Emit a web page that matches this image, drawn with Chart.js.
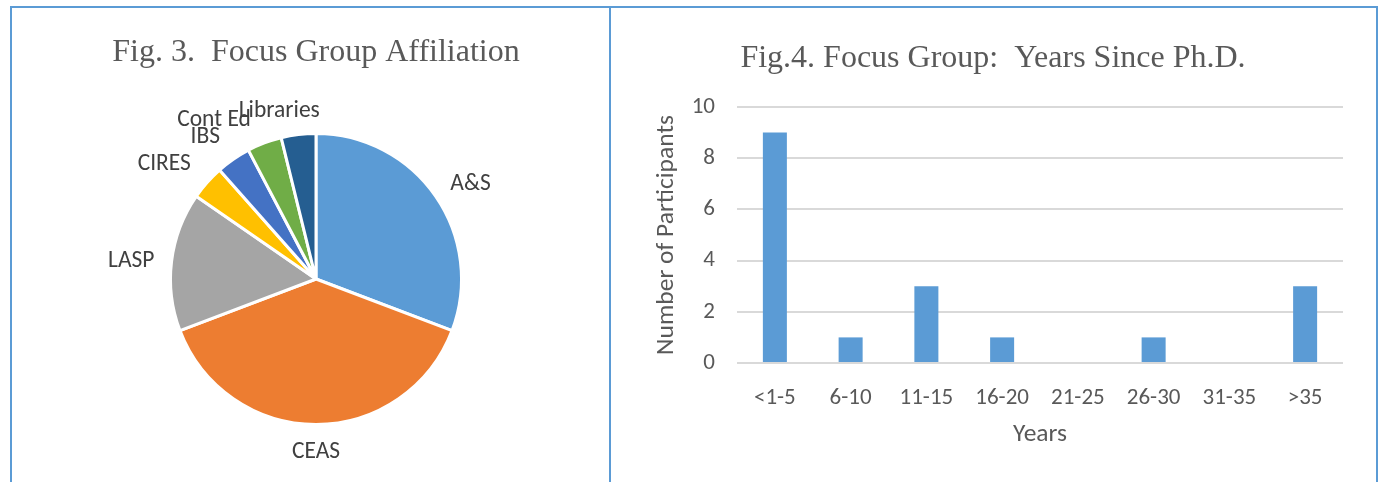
<!DOCTYPE html>
<html>
<head>
<meta charset="utf-8">
<title>Focus Group Charts</title>
<script src="https://cdn.jsdelivr.net/npm/chart.js@4/dist/chart.umd.min.js"></script>
<style>
  html, body { margin: 0; padding: 0; background: #ffffff; }
  body { width: 1382px; height: 482px; position: relative; overflow: hidden; }
  .frame { position: absolute; background: #5b9bd5; z-index: 2; }
  canvas { position: absolute; }
</style>
</head>
<body>
<div class="frame" style="left:10px; top:6px; width:1368px; height:2px;"></div>
<div class="frame" style="left:10px; top:6px; width:2px; height:476px;"></div>
<div class="frame" style="left:609px; top:6px; width:2px; height:476px;"></div>
<div class="frame" style="left:1376px; top:6px; width:2px; height:476px;"></div>

<canvas id="pieChart" width="608" height="474" style="left:12px; top:8px;"></canvas>
<canvas id="barChart" width="765" height="474" style="left:611px; top:8px;"></canvas>

<script>
// Fig. 3 — participants by affiliation
const affiliations = ['A&S', 'CEAS', 'LASP', 'CIRES', 'IBS', 'Cont Ed', 'Libraries'];
const affiliationCounts = [8, 10, 4, 1, 1, 1, 1];
const affiliationColors = ['#5b9bd5', '#ed7d31', '#a5a5a5', '#ffc000', '#4472c4', '#70ad47', '#255e91'];

// Fig. 4 — participants by years since Ph.D.
const yearBins = ['<1-5', '6-10', '11-15', '16-20', '21-25', '26-30', '31-35', '>35'];
const participantCounts = [9, 1, 3, 1, 0, 1, 0, 3];
const countAxisMax = 10;
const countAxisStep = 2;

const SERIF = 'Liberation Serif';
const SANS = 'Carlito';
const TEXT_GREY = '#595959';

// Category names written just outside each slice, along the slice's middle angle
const outsideLabels = {
  id: 'outsideLabels',
  afterDatasetsDraw(chart, args, opts) {
    const ctx = chart.ctx;
    const meta = chart.getDatasetMeta(0);
    ctx.save();
    ctx.font = opts.size + 'px "' + SANS + '"';
    ctx.fillStyle = opts.color;
    ctx.textAlign = 'center';
    ctx.textBaseline = 'middle';
    meta.data.forEach((arc, i) => {
      const p = arc.getProps(['x', 'y', 'startAngle', 'endAngle', 'outerRadius'], true);
      const mid = (p.startAngle + p.endAngle) / 2;
      const d = p.outerRadius + opts.gap;
      const n = opts.nudge[i] || [0, 0];
      ctx.fillText(chart.data.labels[i], p.x + Math.cos(mid) * d + n[0], p.y + Math.sin(mid) * d + n[1]);
    });
    ctx.restore();
  }
};

new Chart(document.getElementById('pieChart'), {
  type: 'pie',
  data: {
    labels: affiliations,
    datasets: [{
      data: affiliationCounts,
      backgroundColor: affiliationColors,
      borderColor: '#ffffff',
      borderWidth: 3
    }]
  },
  options: {
    responsive: false,
    animation: false,
    radius: 145.5,
    layout: { padding: { top: 0, bottom: 52, left: 0, right: 0 } },
    plugins: {
      legend: { display: false },
      tooltip: { enabled: false },
      title: {
        display: true,
        text: 'Fig. 3.  Focus Group Affiliation',
        color: TEXT_GREY,
        font: { family: SERIF, size: 32, weight: 'normal', lineHeight: 1.2 },
        padding: { top: 25, bottom: 56.6 }
      },
      outsideLabels: {
        size: 23.5,
        color: '#404040',
        gap: 26.5,
        nudge: [[13, 3], [0, 1], [-14, 3], [-23, -1], [-13, 0], [-41, 2], [-16, 3]]
      }
    }
  },
  plugins: [outsideLabels]
});

new Chart(document.getElementById('barChart'), {
  type: 'bar',
  data: {
    labels: yearBins,
    datasets: [{
      data: participantCounts,
      backgroundColor: '#5b9bd5',
      borderWidth: 0,
      categoryPercentage: 1,
      barPercentage: 0.317
    }]
  },
  options: {
    responsive: false,
    animation: false,
    layout: { padding: { top: 0, bottom: 0, left: 32, right: 33 } },
    plugins: {
      legend: { display: false },
      tooltip: { enabled: false },
      title: {
        display: true,
        text: 'Fig.4. Focus Group:  Years Since Ph.D.',
        color: TEXT_GREY,
        font: { family: SERIF, size: 32, weight: 'normal', lineHeight: 1.2 },
        padding: { top: 31, bottom: 29.6 }
      }
    },
    scales: {
      x: {
        afterFit(scale) { scale.height = 119; },
        grid: { display: false, drawTicks: false },
        border: { display: false },
        ticks: {
          color: TEXT_GREY,
          font: { family: SANS, size: 23 },
          padding: 21,
          maxRotation: 0,
          autoSkip: false
        },
        title: {
          display: true,
          text: 'Years',
          color: TEXT_GREY,
          font: { family: SANS, size: 25.5, lineHeight: 1.2 },
          padding: { top: 0, bottom: 31.7 }
        }
      },
      y: {
        min: 0,
        max: countAxisMax,
        afterFit(scale) { scale.width = 94; },
        grid: { color: '#d9d9d9', lineWidth: 2, drawTicks: false },
        border: { display: false },
        ticks: {
          stepSize: countAxisStep,
          color: TEXT_GREY,
          font: { family: SANS, size: 23 },
          padding: 22
        },
        title: {
          display: true,
          text: 'Number of Participants',
          color: TEXT_GREY,
          font: { family: SANS, size: 25.5, lineHeight: 1.2 },
          padding: { top: 8.7, bottom: 0 }
        }
      }
    }
  }
});
</script>
</body>
</html>
